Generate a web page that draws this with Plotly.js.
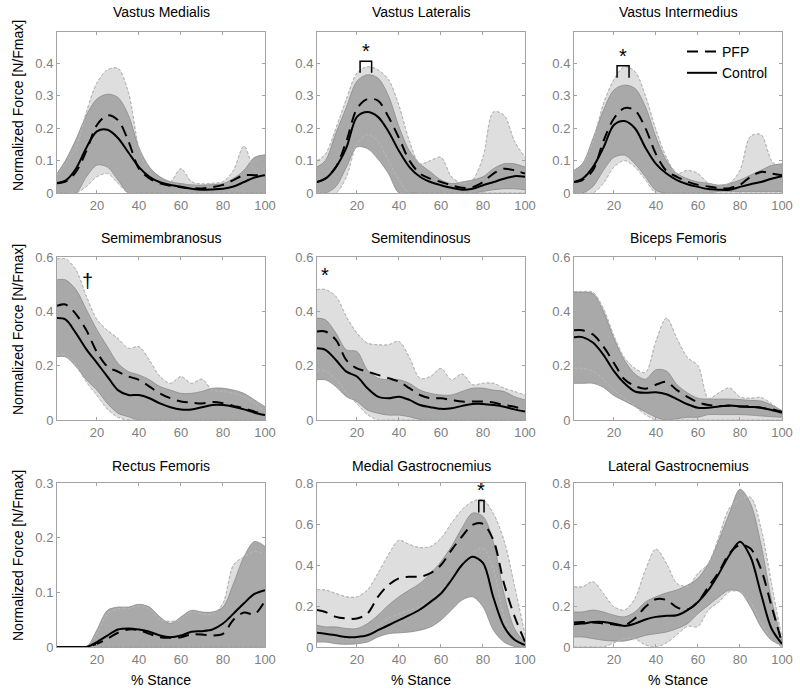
<!DOCTYPE html>
<html>
<head>
<meta charset="utf-8">
<script src="https://cdn.plot.ly/plotly-3.0.1.min.js"></script>
<style>html,body{margin:0;padding:0;background:#fff;}#chart{width:800px;height:691px;}</style>
</head>
<body>
<div id="chart"></div>
<script>
// ---------- DATA ----------
const stance = [1,5,10,15,20,25,30,35,40,45,50,55,60,65,70,75,80,85,90,95,100];
const muscles = ["Vastus Medialis","Vastus Lateralis","Vastus Intermedius",
                 "Semimembranosus","Semitendinosus","Biceps Femoris",
                 "Rectus Femoris","Medial Gastrocnemius","Lateral Gastrocnemius"];

// Vastus Medialis
const vmPfpMean = [0.03,0.035,0.065,0.13,0.21,0.24,0.225,0.16,0.075,0.045,0.03,0.022,0.018,0.015,0.014,0.018,0.025,0.04,0.055,0.055,0.055];
const vmPfpUp   = [0.055,0.09,0.14,0.25,0.34,0.38,0.385,0.31,0.14,0.06,0.03,0.035,0.075,0.035,0.028,0.03,0.035,0.07,0.145,0.07,0.05];
const vmPfpLo   = [0,0,0,0.02,0.05,0.06,0.03,0,0,0,0,0,0,0,0,0,0,0,0,0,0];
const vmCtlMean = [0.031,0.038,0.075,0.14,0.19,0.195,0.17,0.125,0.08,0.05,0.033,0.025,0.019,0.013,0.01,0.011,0.013,0.02,0.034,0.048,0.055];
const vmCtlUp   = [0.06,0.1,0.165,0.24,0.29,0.305,0.295,0.24,0.14,0.08,0.05,0.035,0.029,0.025,0.024,0.026,0.029,0.045,0.07,0.11,0.118];
const vmCtlLo   = [0,0,0,0.05,0.086,0.08,0.04,0,0,0,0,0,0,0,0,0,0,0,0,0,0];

// Vastus Lateralis
const vlPfpMean = [0.034,0.045,0.08,0.16,0.26,0.29,0.285,0.235,0.17,0.1,0.06,0.044,0.034,0.024,0.016,0.018,0.034,0.06,0.075,0.07,0.06];
const vlPfpUp   = [0.1,0.12,0.2,0.29,0.37,0.39,0.38,0.35,0.27,0.16,0.09,0.1,0.11,0.05,0.03,0.04,0.11,0.25,0.24,0.16,0.11];
const vlPfpLo   = [0,0,0,0.05,0.15,0.18,0.16,0.1,0.04,0,0,0,0,0,0,0,0,0,0,0,0];
const vlCtlMean = [0.034,0.044,0.08,0.14,0.235,0.25,0.235,0.19,0.13,0.08,0.05,0.034,0.024,0.016,0.01,0.013,0.024,0.034,0.044,0.052,0.05];
const vlCtlUp   = [0.08,0.1,0.185,0.265,0.345,0.365,0.355,0.3,0.205,0.13,0.09,0.065,0.04,0.029,0.034,0.04,0.05,0.075,0.09,0.09,0.08];
const vlCtlLo   = [0,0,0.02,0.08,0.142,0.137,0.105,0.06,0,0,0,0,0,0,0,0,0.005,0.01,0.013,0.013,0.01];

// Vastus Intermedius
const viPfpMean = [0.034,0.04,0.07,0.16,0.23,0.262,0.255,0.2,0.12,0.068,0.05,0.035,0.025,0.02,0.015,0.015,0.025,0.05,0.065,0.06,0.055];
const viPfpUp   = [0.065,0.085,0.16,0.275,0.35,0.39,0.375,0.3,0.195,0.11,0.06,0.07,0.06,0.03,0.024,0.03,0.07,0.175,0.18,0.1,0.07];
const viPfpLo   = [0,0,0,0.03,0.08,0.1,0.08,0.04,0,0,0,0,0,0,0,0,0,0,0,0,0];
const viCtlMean = [0.034,0.044,0.08,0.14,0.21,0.222,0.2,0.14,0.09,0.06,0.04,0.027,0.019,0.012,0.01,0.01,0.019,0.027,0.034,0.044,0.052];
const viCtlUp   = [0.07,0.09,0.168,0.255,0.318,0.333,0.323,0.266,0.173,0.1,0.06,0.044,0.034,0.03,0.024,0.029,0.04,0.055,0.07,0.085,0.09];
const viCtlLo   = [0,0,0.02,0.07,0.11,0.117,0.09,0.05,0.008,0,0,0,0,0,0.005,0.005,0.005,0.005,0.005,0.005,0.005];

// Semimembranosus
const smPfpMean = [0.42,0.425,0.39,0.33,0.25,0.197,0.178,0.16,0.148,0.123,0.098,0.08,0.068,0.064,0.061,0.066,0.062,0.052,0.043,0.031,0.018];
const smPfpUp   = [0.593,0.593,0.553,0.455,0.37,0.33,0.3,0.264,0.27,0.22,0.16,0.135,0.16,0.135,0.15,0.11,0.105,0.098,0.086,0.061,0.031];
const smPfpLo   = [0.24,0.24,0.2,0.14,0.09,0.04,0.01,0,0,0,0,0,0,0,0,0,0,0,0,0,0];
const smCtlMean = [0.375,0.37,0.32,0.26,0.21,0.16,0.11,0.092,0.092,0.08,0.061,0.047,0.039,0.039,0.047,0.055,0.055,0.049,0.039,0.027,0.018];
const smCtlUp   = [0.516,0.516,0.48,0.406,0.332,0.27,0.209,0.178,0.166,0.148,0.123,0.11,0.098,0.098,0.105,0.117,0.117,0.11,0.098,0.074,0.049];
const smCtlLo   = [0.233,0.233,0.197,0.148,0.11,0.061,0.025,0.012,0,0,0,0,0,0,0,0,0,0,0,0,0];

// Semitendinosus
const stPfpMean = [0.326,0.326,0.295,0.22,0.19,0.178,0.166,0.154,0.141,0.117,0.092,0.08,0.08,0.074,0.068,0.068,0.068,0.064,0.055,0.049,0.037];
const stPfpUp   = [0.48,0.48,0.455,0.38,0.32,0.283,0.277,0.277,0.289,0.23,0.154,0.16,0.19,0.148,0.17,0.13,0.135,0.135,0.117,0.105,0.092];
const stPfpLo   = [0.18,0.18,0.15,0.1,0.06,0.02,0,0,0,0,0,0,0,0,0,0,0,0,0,0,0];
const stCtlMean = [0.264,0.258,0.221,0.178,0.16,0.117,0.086,0.08,0.086,0.074,0.055,0.047,0.041,0.043,0.052,0.059,0.059,0.055,0.049,0.039,0.031];
const stCtlUp   = [0.375,0.369,0.32,0.258,0.252,0.184,0.154,0.148,0.148,0.135,0.11,0.098,0.092,0.092,0.105,0.117,0.117,0.11,0.105,0.086,0.074];
const stCtlLo   = [0.148,0.148,0.123,0.086,0.068,0.037,0.025,0.018,0.018,0.012,0.002,0,0,0,0,0,0,0,0,0,0];

// Biceps Femoris
const bfPfpMean = [0.33,0.33,0.315,0.27,0.21,0.15,0.125,0.115,0.13,0.14,0.11,0.085,0.065,0.055,0.052,0.052,0.05,0.05,0.045,0.04,0.03];
const bfPfpUp   = [0.473,0.473,0.47,0.41,0.31,0.23,0.19,0.175,0.29,0.375,0.3,0.23,0.2,0.08,0.1,0.118,0.085,0.08,0.083,0.06,0.03];
const bfPfpLo   = [0.19,0.19,0.18,0.15,0.11,0.08,0.05,0.02,0,0,0,0,0,0,0,0,0,0,0,0,0];
const bfCtlMean = [0.305,0.305,0.285,0.24,0.18,0.135,0.105,0.1,0.102,0.095,0.077,0.058,0.045,0.045,0.05,0.053,0.05,0.048,0.045,0.037,0.027];
const bfCtlUp   = [0.47,0.47,0.465,0.4,0.3,0.22,0.17,0.15,0.185,0.18,0.13,0.1,0.08,0.077,0.077,0.077,0.075,0.072,0.07,0.055,0.035];
const bfCtlLo   = [0.135,0.135,0.135,0.12,0.09,0.07,0.05,0.03,0.01,0,0.005,0.01,0.01,0.02,0.02,0.02,0.02,0.018,0.015,0.012,0.01];

// Rectus Femoris
const rfPfpMean = [0,0,0,0,0.006,0.015,0.026,0.032,0.031,0.024,0.018,0.017,0.018,0.023,0.023,0.021,0.024,0.05,0.063,0.06,0.085];
const rfPfpUp   = [0,0,0,0,0.025,0.06,0.07,0.07,0.075,0.07,0.05,0.047,0.05,0.065,0.06,0.06,0.08,0.15,0.165,0.175,0.17];
const rfPfpLo   = [0,0,0,0,0,0,0,0,0,0,0,0,0,0,0,0,0,0,0,0,0];
const rfCtlMean = [0,0,0,0,0.009,0.021,0.032,0.034,0.032,0.028,0.021,0.018,0.021,0.028,0.029,0.032,0.043,0.061,0.08,0.097,0.104];
const rfCtlUp   = [0,0,0,0,0.031,0.067,0.073,0.073,0.078,0.073,0.055,0.043,0.055,0.067,0.064,0.064,0.073,0.116,0.165,0.193,0.184];
const rfCtlLo   = [0,0,0,0,0,0,0,0,0,0,0,0,0,0,0,0,0,0,0,0,0];

// Medial Gastrocnemius
const mgPfpMean = [0.18,0.171,0.147,0.139,0.139,0.163,0.245,0.302,0.335,0.343,0.343,0.36,0.4,0.473,0.539,0.596,0.601,0.52,0.31,0.15,0.025];
const mgPfpUp   = [0.28,0.278,0.261,0.245,0.245,0.278,0.359,0.45,0.52,0.5,0.485,0.49,0.53,0.604,0.669,0.71,0.718,0.65,0.52,0.3,0.06];
const mgPfpLo   = [0.08,0.07,0.05,0.04,0.04,0.05,0.1,0.14,0.16,0.18,0.2,0.23,0.28,0.33,0.4,0.46,0.48,0.38,0.15,0.03,0];
const mgCtlMean = [0.069,0.065,0.057,0.049,0.049,0.057,0.082,0.106,0.131,0.155,0.183,0.22,0.261,0.327,0.4,0.44,0.41,0.24,0.1,0.035,0.01];
const mgCtlUp   = [0.106,0.098,0.098,0.09,0.09,0.114,0.155,0.204,0.245,0.278,0.31,0.359,0.416,0.49,0.58,0.653,0.637,0.51,0.26,0.09,0.02];
const mgCtlLo   = [0.024,0.024,0.016,0.013,0.016,0.024,0.049,0.065,0.069,0.073,0.082,0.098,0.131,0.18,0.229,0.245,0.196,0.082,0.024,0.003,0];

// Lateral Gastrocnemius
const lgPfpMean = [0.12,0.122,0.12,0.115,0.11,0.106,0.139,0.196,0.233,0.229,0.193,0.183,0.22,0.294,0.367,0.457,0.498,0.48,0.38,0.2,0.02];
const lgPfpUp   = [0.294,0.294,0.318,0.261,0.196,0.18,0.237,0.376,0.478,0.408,0.31,0.297,0.359,0.408,0.539,0.678,0.72,0.73,0.58,0.31,0.04];
const lgPfpLo   = [0,0,0,0,0.02,0.04,0.04,0.01,0,0.02,0.06,0.1,0.1,0.18,0.22,0.27,0.27,0.22,0.12,0.04,0];
const lgCtlMean = [0.111,0.114,0.122,0.122,0.114,0.103,0.114,0.134,0.147,0.152,0.155,0.18,0.22,0.278,0.359,0.449,0.514,0.44,0.26,0.09,0.015];
const lgCtlUp   = [0.171,0.171,0.18,0.171,0.155,0.147,0.171,0.22,0.245,0.264,0.278,0.302,0.335,0.408,0.522,0.653,0.77,0.7,0.5,0.23,0.03];
const lgCtlLo   = [0.049,0.049,0.041,0.033,0.029,0.029,0.041,0.057,0.065,0.073,0.09,0.114,0.163,0.204,0.245,0.278,0.269,0.196,0.098,0.033,0.008];

// y-axis ranges and tick labels per panel
const yMax   = [0.497,0.497,0.497,0.6,0.6,0.6,0.3,0.8,0.8];
const yTicks = [[0,0.1,0.2,0.3,0.4],[0,0.1,0.2,0.3,0.4],[0,0.1,0.2,0.3,0.4],
                [0,0.2,0.4,0.6],[0,0.2,0.4,0.6],[0,0.2,0.4,0.6],
                [0,0.1,0.2,0.3],[0,0.2,0.4,0.6,0.8],[0,0.2,0.4,0.6,0.8]];
const xTicks = [20,40,60,80,100];

// significance marks: panel index, bracket start/end (% stance), bracket top, leg bottom, symbol
const sigPanel = [1,2,7];
const sigX0    = [21.5,21.5,78];
const sigX1    = [27,27.2,80.5];
const sigTop   = [0.407,0.393,0.715];
const sigLeg   = [0.371,0.356,0.656];
const sigStar  = [0.437,0.424,0.765];
// unbracketed marks
const markPanel = [3,4];
const markX     = [15.5,5];
const markY     = [0.51,0.535];
const markText  = ["†","*"];

// ---------- BUILD ----------
const panels = [
  [vmPfpMean,vmPfpUp,vmPfpLo,vmCtlMean,vmCtlUp,vmCtlLo],
  [vlPfpMean,vlPfpUp,vlPfpLo,vlCtlMean,vlCtlUp,vlCtlLo],
  [viPfpMean,viPfpUp,viPfpLo,viCtlMean,viCtlUp,viCtlLo],
  [smPfpMean,smPfpUp,smPfpLo,smCtlMean,smCtlUp,smCtlLo],
  [stPfpMean,stPfpUp,stPfpLo,stCtlMean,stCtlUp,stCtlLo],
  [bfPfpMean,bfPfpUp,bfPfpLo,bfCtlMean,bfCtlUp,bfCtlLo],
  [rfPfpMean,rfPfpUp,rfPfpLo,rfCtlMean,rfCtlUp,rfCtlLo],
  [mgPfpMean,mgPfpUp,mgPfpLo,mgCtlMean,mgCtlUp,mgCtlLo],
  [lgPfpMean,lgPfpUp,lgPfpLo,lgCtlMean,lgCtlUp,lgCtlLo]
];

const W = 800, H = 691;
const colPx = [[57,265],[317,525],[574,782]];
const rowPx = [[32,193],[257,420],[483,647]];
const titleY = [12,238,466];
const yTitleY = [106,330,556];
const FONT = "Liberation Sans, Arial, Helvetica, sans-serif";
const LIGHT = "#dedede", DARK = "#a9a9a9";

const traces = [];
const layout = {
  width: W, height: H,
  margin: {l:0,r:0,t:0,b:0},
  paper_bgcolor: "#ffffff", plot_bgcolor: "#ffffff",
  font: {family: FONT, color: "#000"},
  showlegend: true,
  legend: {x: 682/W, y: 1-36/H, xanchor:"left", yanchor:"top", traceorder:"normal",
           bgcolor:"rgba(0,0,0,0)", borderwidth:0,
           font:{family:FONT, size:14, color:"#000"}, tracegroupgap:0},
  annotations: [], shapes: []
};

const sp = {shape:"spline", smoothing:0.9};

panels.forEach((p, i) => {
  const [pm, pu, pl, cm, cu, cl] = p;
  const r = Math.floor(i/3), c = i%3;
  const xa = "x" + (i===0 ? "" : i+1), ya = "y" + (i===0 ? "" : i+1);
  const common = {x: stance, xaxis: xa, yaxis: ya, mode:"lines", hoverinfo:"skip", showlegend:false, type:"scatter"};
  // PFP band
  traces.push(Object.assign({}, common, {y: pl, line: Object.assign({color:"#a8a8a8", width:0.8, dash:"3px,2px"}, sp)}));
  traces.push(Object.assign({}, common, {y: pu, fill:"tonexty", fillcolor: LIGHT, line: Object.assign({color:"#9a9a9a", width:0.8, dash:"3px,2px"}, sp)}));
  // Control band
  traces.push(Object.assign({}, common, {y: cl, line: Object.assign({color:"#8a8a8a", width:0.8}, sp)}));
  traces.push(Object.assign({}, common, {y: cu, fill:"tonexty", fillcolor: DARK, line: Object.assign({color:"#8a8a8a", width:0.8}, sp)}));
  // faint PFP band edges visible through control band
  traces.push(Object.assign({}, common, {y: pl, line: Object.assign({color:"#bcbcbc", width:0.8, dash:"3px,2px"}, sp)}));
  traces.push(Object.assign({}, common, {y: pu, line: Object.assign({color:"#bcbcbc", width:0.8, dash:"3px,2px"}, sp)}));
  // means
  traces.push(Object.assign({}, common, {y: pm, name:"PFP", showlegend: i===2,
      line: Object.assign({color:"#000", width:2, dash:"11px,7px"}, sp)}));
  traces.push(Object.assign({}, common, {y: cm, name:"Control", showlegend: i===2,
      line: Object.assign({color:"#000", width:2}, sp)}));

  const axCommon = {showline:true, linecolor:"#a3a3a3", linewidth:1, mirror:"ticks",
    ticks:"inside", ticklen:3, tickcolor:"#a3a3a3", showgrid:false, zeroline:false,
    tickfont:{family:FONT, size:13, color:"#808080"}, fixedrange:true};
  layout["xaxis" + (i===0 ? "" : i+1)] = Object.assign({}, axCommon, {
    domain:[colPx[c][0]/W, colPx[c][1]/W], range:[1,100], tickvals:xTicks,
    ticktext: xTicks.map(String), anchor: ya});
  layout["yaxis" + (i===0 ? "" : i+1)] = Object.assign({}, axCommon, {
    domain:[1-rowPx[r][1]/H, 1-rowPx[r][0]/H], range:[0,yMax[i]], tickvals:yTicks[i],
    ticktext: yTicks[i].map(String), anchor: xa});

  layout.annotations.push({text: muscles[i], xref:"paper", yref:"paper",
    x:(colPx[c][0]+colPx[c][1])/2/W, y:1-titleY[r]/H, xanchor:"center", yanchor:"middle",
    showarrow:false, font:{family:FONT, size:14, color:"#000"}});
  if (c===0) {
    layout.annotations.push({text:"Normalized Force [N/Fmax]", xref:"paper", yref:"paper",
      x:18/W, y:1-yTitleY[r]/H, xanchor:"center", yanchor:"middle", textangle:-90,
      showarrow:false, font:{family:FONT, size:14, color:"#000"}});
  }
  if (r===2) {
    layout.annotations.push({text:"% Stance", xref:"paper", yref:"paper",
      x:(colPx[c][0]+colPx[c][1])/2/W, y:1-680/H, xanchor:"center", yanchor:"middle",
      showarrow:false, font:{family:FONT, size:14, color:"#000"}});
  }
});

sigPanel.forEach((pi, k) => {
  const xa = "x" + (pi===0 ? "" : pi+1), ya = "y" + (pi===0 ? "" : pi+1);
  layout.shapes.push({type:"path", xref:xa, yref:ya,
    path:`M ${sigX0[k]},${sigLeg[k]} L ${sigX0[k]},${sigTop[k]} L ${sigX1[k]},${sigTop[k]} L ${sigX1[k]},${sigLeg[k]}`,
    line:{color:"#000", width:1.5}});
  layout.annotations.push({text:"*", xref:xa, yref:ya, x:(sigX0[k]+sigX1[k])/2, y:sigStar[k],
    xanchor:"center", yanchor:"middle", showarrow:false, font:{family:FONT, size:20, color:"#000"}});
});
markPanel.forEach((pi, k) => {
  const xa = "x" + (pi+1), ya = "y" + (pi+1);
  layout.annotations.push({text:markText[k], xref:xa, yref:ya, x:markX[k], y:markY[k],
    xanchor:"center", yanchor:"middle", showarrow:false, font:{family:FONT, size:20, color:"#000"}});
});

Plotly.newPlot("chart", traces, layout, {staticPlot:true, displayModeBar:false});
</script>
</body>
</html>
